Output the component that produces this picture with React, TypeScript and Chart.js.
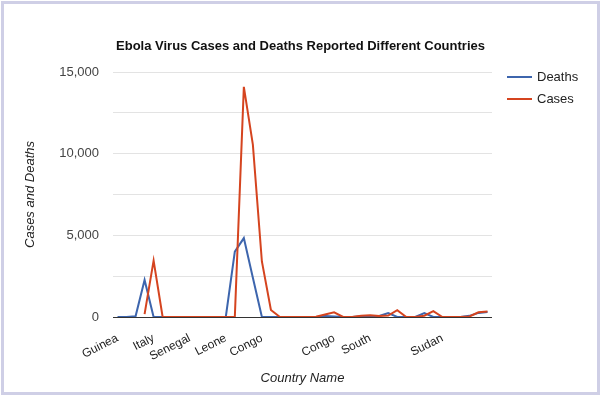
import React, { useEffect, useRef } from "react";
import { Chart, registerables } from "chart.js";

Chart.register(...registerables);

const chartTitle = "Ebola Virus Cases and Deaths Reported Different Countries";
const xAxisTitle = "Country Name";
const yAxisTitle = "Cases and Deaths";

// 42 categories; only the labels visible in the reference are named
const categories: string[] = [
  "Guinea", "", "", "", "Italy", "", "", "", "Senegal", "", "",
  "", "Leone", "", "", "", "Congo", "", "", "", "", "",
  "", "", "Congo", "", "", "", "South", "", "", "",
  "", "", "", "", "Sudan", "", "", "", "", "",
];

const deaths: (number | null)[] = [
  0, 0, 40, 2270, 0, 0, 0, 0, 0, 0, 0,
  0, 0, 4000, 4830, 2400, 0, 0, 0, 0, 0, 0,
  0, 60, 30, 0, 0, 50, 40, 60, 240, 0,
  0, 0, 240, 0, 0, 0, 0, 70, 250, 300,
];

const cases: (number | null)[] = [
  null, null, null, 180, 3450, 0, 0, 0, 0, 0, 0,
  0, 0, 0, 14090, 10550, 3400, 430, 0, 0, 0, 0,
  20, 150, 290, 0, 0, 80, 110, 60, 90, 420,
  0, 0, 80, 360, 0, 0, 0, 30, 290, 330,
];

const yTicks = { min: 0, max: 15000, step: 2500, labelStep: 5000 };

const FONT = '"Liberation Sans", Arial, sans-serif';

export default function App() {
  const ref = useRef<HTMLCanvasElement | null>(null);

  useEffect(() => {
    document.body.style.margin = "0";
    const canvas = ref.current;
    if (!canvas) return;

    const framePlugin = {
      id: "frame",
      beforeDraw(chart: any) {
        const ctx = chart.ctx;
        ctx.save();
        ctx.fillStyle = "#ffffff";
        ctx.fillRect(0, 0, chart.width, chart.height);
        ctx.strokeStyle = "#cfcfe6";
        ctx.lineWidth = 3;
        ctx.strokeRect(2.5, 2.5, chart.width - 5, chart.height - 5);
        ctx.restore();
      },
      afterDraw(chart: any) {
        const ctx = chart.ctx;
        const area = chart.chartArea;
        ctx.save();
        // title
        ctx.font = `bold 13px ${FONT}`;
        ctx.fillStyle = "#111111";
        ctx.textAlign = "center";
        ctx.textBaseline = "middle";
        ctx.fillText(chartTitle, (area.left + area.right) / 2 - 2, 46);
        // legend
        ctx.font = `13px ${FONT}`;
        ctx.textAlign = "left";
        chart.data.datasets.forEach((ds: any, i: number) => {
          const y = 77 + i * 22;
          ctx.strokeStyle = ds.borderColor;
          ctx.lineWidth = 2;
          ctx.beginPath();
          ctx.moveTo(507, y);
          ctx.lineTo(532, y);
          ctx.stroke();
          ctx.fillStyle = "#222222";
          ctx.fillText(ds.label, 537, y);
        });
        ctx.restore();
      },
    };

    const chart = new Chart(canvas, {
      type: "line",
      data: {
        labels: categories,
        datasets: [
          {
            label: "Deaths",
            data: deaths,
            borderColor: "#3d65ad",
            backgroundColor: "#3d65ad",
            borderWidth: 2,
            pointRadius: 0,
            tension: 0,
            order: 1,
          },
          {
            label: "Cases",
            data: cases,
            borderColor: "#d5441f",
            backgroundColor: "#d5441f",
            borderWidth: 2,
            pointRadius: 0,
            tension: 0,
            order: 0,
          },
        ],
      },
      options: {
        animation: false,
        responsive: false,
        devicePixelRatio: 1,
        layout: { padding: { left: 0, right: 109, top: 72, bottom: 0 } },
        plugins: {
          legend: { display: false },
          title: { display: false },
          tooltip: { enabled: false },
        },
        scales: {
          x: {
            type: "category",
            offset: true,
            grid: { display: false },
            border: { display: false },
            ticks: {
              autoSkip: false,
              minRotation: 27,
              maxRotation: 27,
              padding: 6,
              color: "#222222",
              font: { family: FONT, size: 12 },
            },
            title: {
              display: true,
              text: xAxisTitle,
              color: "#222222",
              font: { family: FONT, size: 13, style: "italic" },
              padding: { top: 0, bottom: 10 },
            },
            afterFit(scale: any) {
              scale.height = 79;
            },
          },
          y: {
            min: yTicks.min,
            max: yTicks.max,
            border: { display: false },
            grid: {
              drawTicks: false,
              color: (c: any) => (c.tick && c.tick.value === 0 ? "#333333" : "#e3e3e3"),
              lineWidth: 1,
            },
            ticks: {
              stepSize: yTicks.step,
              padding: 14,
              color: "#444444",
              font: { family: FONT, size: 13 },
              callback: (v: any) =>
                Number(v) % yTicks.labelStep === 0 ? Number(v).toLocaleString("en-US") : "",
            },
            title: {
              display: true,
              text: yAxisTitle,
              color: "#222222",
              font: { family: FONT, size: 13, style: "italic" },
              padding: { top: 23, bottom: 0 },
            },
            afterFit(scale: any) {
              scale.width = 113;
            },
          },
        },
      },
      plugins: [framePlugin],
    });

    return () => chart.destroy();
  }, []);

  return (
    <div style={{ width: 601, height: 396 }}>
      <canvas ref={ref} width={601} height={396} style={{ display: "block" }} />
    </div>
  );
}
